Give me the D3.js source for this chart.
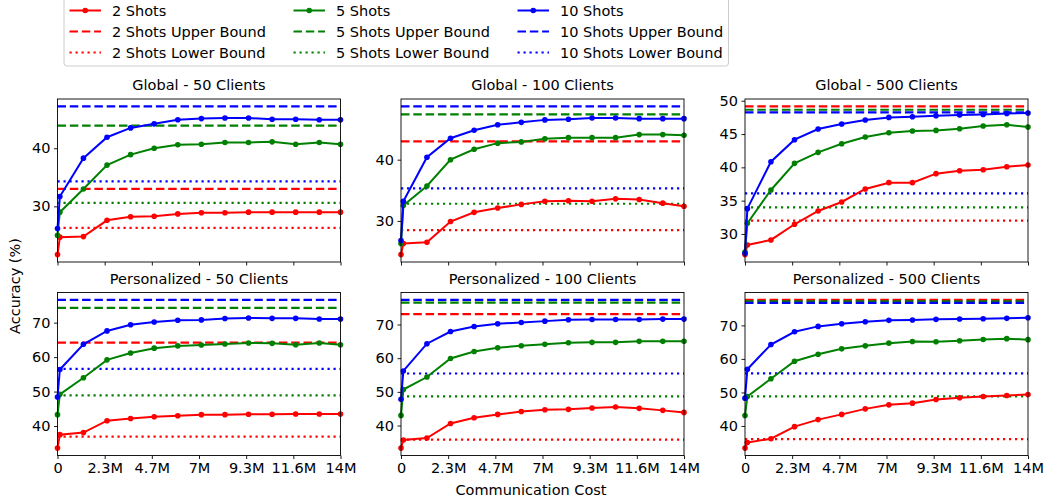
<!DOCTYPE html>
<html>
<head>
<meta charset="utf-8">
<script src="https://cdn.jsdelivr.net/npm/d3@7"></script>
<style>
  body { margin: 0; background: #fff; }
  text { font-family: "DejaVu Sans", sans-serif; fill: #000; }
</style>
</head>
<body>
<div id="chart"></div>
<script>
// Communication cost (millions) at each evaluation point
const costM = [0, 0.117, 1.283, 2.45, 3.617, 4.783, 5.95, 7.117, 8.283, 9.45, 10.617, 11.783, 12.95, 14];
const xTickValues = [0, 2.333, 4.667, 7, 9.333, 11.667, 14];
const xTickLabels = ["0", "2.3M", "4.7M", "7M", "9.3M", "11.6M", "14M"];

const shotLabels = ["2 Shots", "5 Shots", "10 Shots"];

// Global - 50 clients
const g50_2  = [21.7, 24.7, 24.8, 27.6, 28.2, 28.3, 28.7, 28.9, 28.9, 29.0, 29.0, 29.0, 29.0, 29.0];
const g50_5  = [25.0, 29.0, 33.0, 37.1, 38.9, 40.0, 40.6, 40.7, 41.0, 41.0, 41.1, 40.7, 41.0, 40.7];
const g50_10 = [26.2, 31.7, 38.3, 41.9, 43.5, 44.2, 44.9, 45.1, 45.2, 45.2, 45.0, 45.0, 44.9, 44.9];
const g50Upper = [33.0, 43.9, 47.2];
const g50Lower = [26.3, 30.6, 34.3];
const g50Ticks = [30, 40];

// Global - 100 clients
const g100_2  = [24.5, 26.3, 26.5, 29.9, 31.4, 32.1, 32.7, 33.2, 33.3, 33.2, 33.6, 33.5, 32.9, 32.4];
const g100_5  = [26.3, 32.5, 35.7, 40.0, 41.7, 42.7, 42.9, 43.4, 43.6, 43.6, 43.6, 44.1, 44.1, 44.0];
const g100_10 = [26.8, 33.2, 40.4, 43.5, 44.8, 45.7, 46.1, 46.5, 46.6, 46.8, 46.8, 46.7, 46.7, 46.7];
const g100Upper = [43.0, 47.4, 48.7];
const g100Lower = [28.5, 32.8, 35.3];
const g100Ticks = [30, 40];

// Global - 500 clients
const g500_2  = [26.9, 28.35, 29.1, 31.45, 33.45, 34.8, 36.75, 37.7, 37.7, 39.05, 39.5, 39.65, 40.1, 40.35];
const g500_5  = [27.3, 31.6, 36.6, 40.6, 42.25, 43.55, 44.55, 45.2, 45.45, 45.55, 45.8, 46.2, 46.4, 46.05];
const g500_10 = [27.1, 33.8, 40.85, 44.15, 45.75, 46.5, 47.1, 47.5, 47.6, 47.75, 47.85, 47.95, 48.1, 48.15];
const g500Upper = [49.15, 48.65, 48.25];
const g500Lower = [32.0, 34.0, 36.1];
const g500Ticks = [30, 35, 40, 45, 50];

// Personalized - 50 clients
const p50_2  = [33.6, 37.5, 38.1, 41.55, 42.2, 42.7, 43.0, 43.3, 43.3, 43.4, 43.4, 43.5, 43.5, 43.5];
const p50_5  = [43.3, 49.2, 54.0, 59.2, 61.2, 62.6, 63.25, 63.5, 63.8, 64.1, 64.0, 63.6, 64.1, 63.6];
const p50_10 = [48.4, 56.4, 63.7, 67.6, 69.4, 70.2, 70.7, 70.8, 71.2, 71.35, 71.25, 71.25, 71.05, 71.05];
const p50Upper = [64.2, 74.3, 76.6];
const p50Lower = [36.9, 48.9, 56.6];
const p50Ticks = [40, 50, 60, 70];

// Personalized - 100 clients
const p100_2  = [33.3, 35.7, 36.3, 40.6, 42.3, 43.3, 44.15, 44.7, 44.8, 45.2, 45.5, 45.1, 44.5, 43.9];
const p100_5  = [43.0, 50.7, 54.4, 59.9, 62.0, 63.1, 63.7, 64.1, 64.6, 64.7, 64.7, 65.0, 65.0, 65.0];
const p100_10 = [47.8, 56.2, 64.3, 67.9, 69.4, 70.2, 70.6, 71.0, 71.4, 71.5, 71.5, 71.5, 71.6, 71.6];
const p100Upper = [73.1, 76.5, 77.3];
const p100Lower = [35.8, 48.65, 55.45];
const p100Ticks = [40, 50, 60, 70];

// Personalized - 500 clients
const p500_2  = [33.4, 35.05, 36.2, 39.8, 41.9, 43.45, 45.1, 46.3, 46.8, 47.9, 48.4, 48.8, 49.1, 49.4];
const p500_5  = [43.1, 48.8, 54.1, 59.3, 61.4, 63.0, 63.9, 64.7, 65.2, 65.1, 65.4, 65.8, 66.05, 65.75];
const p500_10 = [48.3, 56.9, 64.3, 68.1, 69.7, 70.5, 71.1, 71.5, 71.6, 71.8, 71.9, 72.0, 72.1, 72.3];
const p500Upper = [77.6, 77.2, 76.7];
const p500Lower = [36.1, 48.8, 55.7];
const p500Ticks = [40, 50, 60, 70];

const colors = ["#ff0000", "#008000", "#0000ff"];

const panels = [
  { title: "Global - 50 Clients",  series: [g50_2, g50_5, g50_10],    upper: g50Upper,  lower: g50Lower,  ticks: g50Ticks,  col: 0, row: 0 },
  { title: "Global - 100 Clients", series: [g100_2, g100_5, g100_10], upper: g100Upper, lower: g100Lower, ticks: g100Ticks, col: 1, row: 0 },
  { title: "Global - 500 Clients", series: [g500_2, g500_5, g500_10], upper: g500Upper, lower: g500Lower, ticks: g500Ticks, col: 2, row: 0 },
  { title: "Personalized - 50 Clients",  series: [p50_2, p50_5, p50_10],    upper: p50Upper,  lower: p50Lower,  ticks: p50Ticks,  col: 0, row: 1 },
  { title: "Personalized - 100 Clients", series: [p100_2, p100_5, p100_10], upper: p100Upper, lower: p100Lower, ticks: p100Ticks, col: 1, row: 1 },
  { title: "Personalized - 500 Clients", series: [p500_2, p500_5, p500_10], upper: p500Upper, lower: p500Lower, ticks: p500Ticks, col: 2, row: 1 }
];

// Layout
const colLeft = [57.5, 401, 745];
const rowTop = [99, 292.5];
const W = 283, H = 163;
const fontSize = "14.5px";

const svg = d3.select("#chart")
  .append("svg")
  .attr("width", 1045)
  .attr("height", 504);

panels.forEach(p => {
  const g = svg.append("g")
    .attr("transform", `translate(${colLeft[p.col]},${rowTop[p.row]})`);

  const x = d3.scaleLinear().domain([0, 14]).range([0, W]);

  // matplotlib-style 5% padding around all plotted values
  const all = p.series.flat().concat(p.upper, p.lower);
  const [mn, mx] = d3.extent(all);
  const pad = (mx - mn) * 0.05;
  const y = d3.scaleLinear().domain([mn - pad, mx + pad]).range([H, 0]);

  // Upper / lower bound reference lines
  p.upper.forEach((v, i) => {
    g.append("line")
      .attr("x1", x(0)).attr("x2", x(14))
      .attr("y1", y(v)).attr("y2", y(v))
      .attr("stroke", colors[i])
      .attr("stroke-width", 2.2)
      .attr("stroke-dasharray", "8.5,3.8");
  });
  p.lower.forEach((v, i) => {
    g.append("line")
      .attr("x1", x(0)).attr("x2", x(14))
      .attr("y1", y(v)).attr("y2", y(v))
      .attr("stroke", colors[i])
      .attr("stroke-width", 2.2)
      .attr("stroke-dasharray", "2.2,3.8");
  });

  // Accuracy curves with markers
  const line = d3.line()
    .x((d, j) => x(costM[j]))
    .y(d => y(d));

  p.series.forEach((s, i) => {
    g.append("path")
      .datum(s)
      .attr("fill", "none")
      .attr("stroke", colors[i])
      .attr("stroke-width", 2)
      .attr("d", line);

    g.selectAll(".dot" + i)
      .data(s)
      .enter()
      .append("circle")
      .attr("cx", (d, j) => x(costM[j]))
      .attr("cy", d => y(d))
      .attr("r", 2.8)
      .attr("fill", colors[i]);
  });

  // Axes
  const yAxis = g.append("g")
    .call(d3.axisLeft(y).tickValues(p.ticks).tickSize(3.5).tickPadding(3.5));
  const xAxis = g.append("g")
    .attr("transform", `translate(0,${H})`)
    .call(d3.axisBottom(x)
      .tickValues(xTickValues)
      .tickSize(3.5)
      .tickPadding(4)
      .tickFormat((d, i) => p.row === 1 ? xTickLabels[i] : ""));

  [yAxis, xAxis].forEach(a => {
    a.select(".domain").remove();
    a.selectAll(".tick line").attr("stroke", "#000").attr("stroke-width", 0.9);
    a.selectAll("text").style("font-size", fontSize).style("font-family", "DejaVu Sans");
  });

  // Frame
  g.append("rect")
    .attr("width", W)
    .attr("height", H)
    .attr("fill", "none")
    .attr("stroke", "#000")
    .attr("stroke-width", 0.9);

  // Panel title
  g.append("text")
    .attr("x", W / 2)
    .attr("y", -9)
    .attr("text-anchor", "middle")
    .style("font-size", fontSize)
    .text(p.title);
});

// Shared axis labels
svg.append("text")
  .attr("x", 531)
  .attr("y", 495)
  .attr("text-anchor", "middle")
  .style("font-size", fontSize)
  .text("Communication Cost");

svg.append("text")
  .attr("transform", "translate(20,286) rotate(-90)")
  .attr("text-anchor", "middle")
  .style("font-size", fontSize)
  .text("Accuracy (%)");

// Legend
const legend = svg.append("g");
legend.append("rect")
  .attr("x", 64).attr("y", -6)
  .attr("width", 664.5).attr("height", 72)
  .attr("rx", 3)
  .attr("fill", "#fff")
  .attr("stroke", "#cccccc")
  .attr("stroke-width", 1);

const legendCols = [69.5, 293.5, 517.5];
const legendRows = [10.5, 31.5, 52.5];
const legendKinds = ["", " Upper Bound", " Lower Bound"];
const legendDash = [null, "8.5,3.8", "2.2,3.8"];

shotLabels.forEach((lbl, i) => {
  legendKinds.forEach((kind, k) => {
    const lx = legendCols[i], ly = legendRows[k];
    const l = legend.append("line")
      .attr("x1", lx).attr("x2", lx + 31.5)
      .attr("y1", ly).attr("y2", ly)
      .attr("stroke", colors[i])
      .attr("stroke-width", k === 0 ? 2 : 2.2);
    if (legendDash[k]) l.attr("stroke-dasharray", legendDash[k]);
    if (k === 0) {
      legend.append("circle")
        .attr("cx", lx + 15.75).attr("cy", ly)
        .attr("r", 2.8)
        .attr("fill", colors[i]);
    }
    legend.append("text")
      .attr("x", lx + 42.5)
      .attr("y", ly + 5)
      .style("font-size", fontSize)
      .text(lbl + kind);
  });
});
</script>
</body>
</html>
